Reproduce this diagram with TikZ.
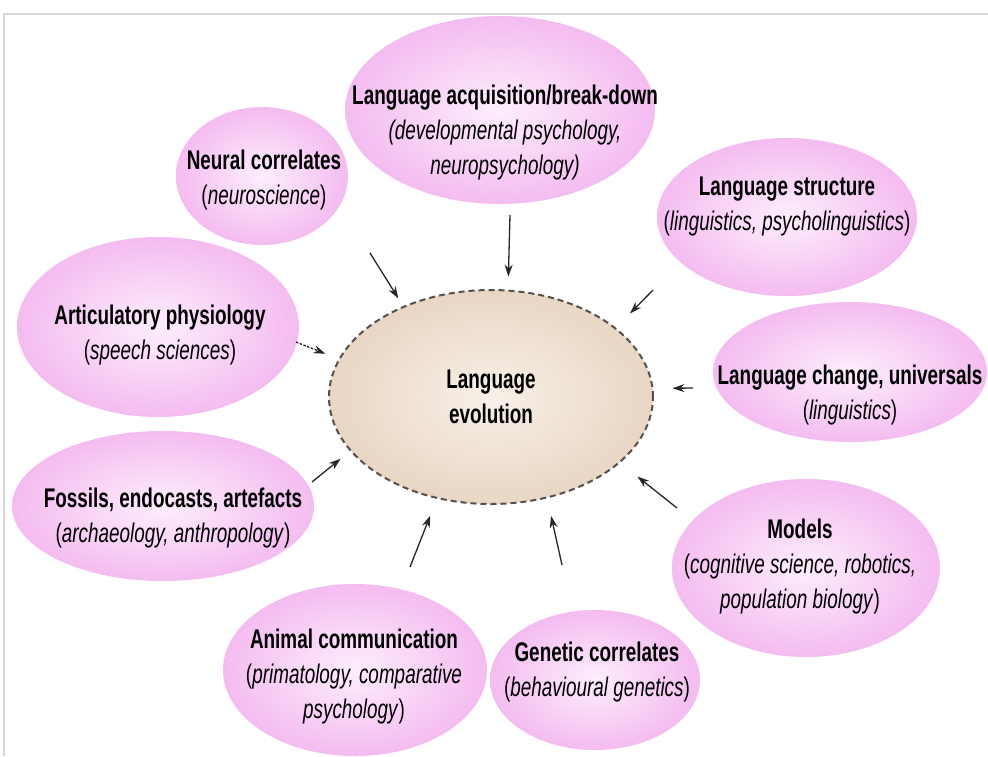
\documentclass[tikz,border=0pt]{standalone}
\usepackage{fontspec}
\setmainfont{Liberation Sans}[FakeStretch=0.70]
\usetikzlibrary{arrows.meta}
\usetikzlibrary{shapes.geometric}

\definecolor{blobpink}{RGB}{244,188,240}
\definecolor{blobcore}{RGB}{253,238,252}
\definecolor{evobeige}{RGB}{233,214,196}
\definecolor{evocore}{RGB}{248,240,232}
\definecolor{rimgrey}{RGB}{85,80,78}
\definecolor{framegrey}{RGB}{215,215,215}

\tikzset{
  blob/.style={ellipse, inner sep=0pt, shade, inner color=blobcore, outer color=blobpink},
  txt/.style={align=center, inner sep=0pt, font=\fontsize{27}{35}\selectfont},
  feed/.style={-{Stealth[length=12pt,width=8pt]}, line width=1.3pt, black!85},
}
\newcommand{\ttl}[1]{\textbf{#1}}

\begin{document}
\begin{tikzpicture}[x=1pt, y=-1pt]
      \useasboundingbox (0,0) rectangle (988,756);
      \fill[white] (0,0) rectangle (988,756);
      \clip (0,0) rectangle (988,756);
      \draw[framegrey, line width=1.5pt] (4,756) -- (4,14) -- (988,14);

      % satellite fields
      \node[blob, minimum width=310pt, minimum height=188pt] (acq) at (500,110) {};
      \node[blob, minimum width=172pt, minimum height=138pt] (neural) at (262,176) {};
      \node[blob, minimum width=260pt, minimum height=158pt] (struct) at (787,217) {};
      \node[blob, minimum width=282pt, minimum height=180pt] (artic) at (158,327) {};
      \node[blob, minimum width=274pt, minimum height=140pt] (change) at (850,372) {};
      \node[blob, minimum width=302pt, minimum height=150pt] (fossil) at (163,506) {};
      \node[blob, minimum width=268pt, minimum height=178pt] (models) at (806,568) {};
      \node[blob, minimum width=264pt, minimum height=172pt] (animal) at (355,670) {};
      \node[blob, minimum width=210pt, minimum height=140pt] (genetic) at (595,680) {};

      \node[txt] (acq-t) at (505,133) {\ttl{Language acquisition/break-down}\\ \textit{(developmental psychology,}\\ \textit{neuropsychology)}};
      \node[txt] (neural-t) at (264,180) {\ttl{Neural correlates}\\ (\textit{neuroscience})};
      \node[txt] (struct-t) at (787,207) {\ttl{Language structure}\\ (\textit{linguistics, psycholinguistics})};
      \node[txt] (artic-t) at (160,335) {\ttl{Articulatory physiology}\\ (\textit{speech sciences})};
      \node[txt] (change-t) at (850,395) {\ttl{Language change, universals}\\ (\textit{linguistics})};
      \node[txt] (fossil-t) at (173,518) {\ttl{Fossils, endocasts, artefacts}\\ (\textit{archaeology, anthropology})};
      \node[txt] (models-t) at (800,567) {\ttl{Models}\\ (\textit{cognitive science, robotics,}\\ \textit{population biology})};
      \node[txt] (animal-t) at (354,677) {\ttl{Animal communication}\\ (\textit{primatology, comparative}\\ \textit{psychology})};
      \node[txt] (genetic-t) at (597,672) {\ttl{Genetic correlates}\\ (\textit{behavioural genetics})};

      % centre
      \node[ellipse, inner sep=0pt, minimum width=324pt, minimum height=214pt, shade, inner color=evocore, outer color=evobeige,
            draw=rimgrey, line width=2pt, dash pattern=on 6pt off 4pt] (evo) at (491,397) {};
      \node[txt] (evo-t) at (491,397) {\ttl{Language}\\ \ttl{evolution}};

      % arrow tails
      \coordinate (t1) at (370,253);
      \coordinate (t2) at (510,215);
      \coordinate (t3) at (653,290);
      \coordinate (t4) at (693,388);
      \coordinate (t5) at (677,508);
      \coordinate (t6) at (562,565);
      \coordinate (t7) at (410,567);
      \coordinate (t8) at (312,482);
      \coordinate (t9) at (296,342);

      \foreach \t/\a/\s in {t1/134/9, t2/81/13, t3/29/20, t4/3/19, t5/-27/22, t6/-61/18, t7/-118/18, t8/-159/12}
        \draw[feed, shorten >=\s pt] (\t) -- (evo.\a);
      \draw[feed, dash pattern=on 2.5pt off 1.5pt, shorten >=14pt] (t9) -- (evo.166);
\end{tikzpicture}
\end{document}
